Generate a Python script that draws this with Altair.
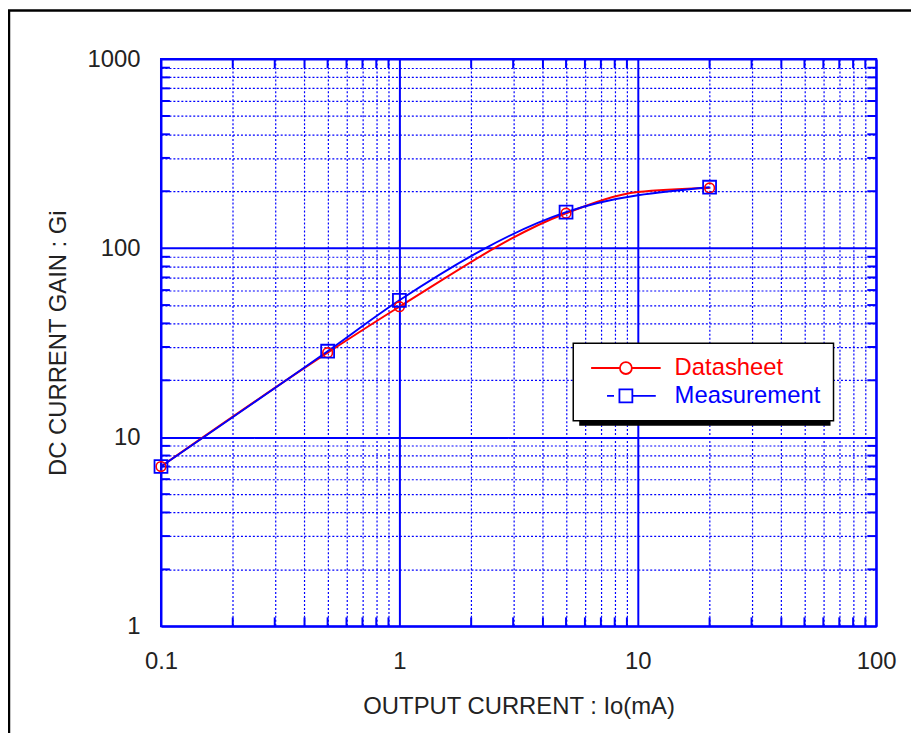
import altair as alt
import pandas as pd

FONT = "Liberation Sans"
TEXT = "#222222"
BLUE = "#0000ff"

series = ["Datasheet", "Measurement"]
colors = ["#ff0000", "#0000ff"]

# Datasheet curve (line) and its circle markers
ds_x = [0.1, 0.5, 1, 5, 10, 20]
ds_y = [7.0, 28.0, 49.0, 153.0, 198.0, 208.0]
ds_mark_x = [0.1, 0.5, 1, 5, 20]
ds_mark_y = [7.0, 28.0, 49.0, 153.0, 208.0]

# Measurement curve and its square markers
ms_x = [0.1, 0.5, 1, 5, 20]
ms_y = [7.0, 28.5, 53.0, 155.0, 210.0]

x_decades = [0.1, 1, 10, 100]
y_decades = [1, 10, 100, 1000]
minor_steps = [2, 3, 4, 5, 6, 7, 8, 9]

x_minor = sorted(round(d * m, 6) for d in x_decades[:-1] for m in minor_steps)
y_minor = sorted(d * m for d in y_decades[:-1] for m in minor_steps)
x_ticks = sorted(set(x_minor) | set(x_decades))
y_ticks = sorted(set(y_minor) | set(y_decades))

line_df = pd.concat([
    pd.DataFrame({"current": ds_x, "gain": ds_y, "series": series[0]}),
    pd.DataFrame({"current": ms_x, "gain": ms_y, "series": series[1]}),
])
ds_pts_df = pd.DataFrame({"current": ds_mark_x, "gain": ds_mark_y})
ms_pts_df = pd.DataFrame({"current": ms_x, "gain": ms_y})
x_minor_df = pd.DataFrame({"current": x_minor})
y_minor_df = pd.DataFrame({"gain": y_minor})

decade_test = "abs(log(datum.value)/LN10 - round(log(datum.value)/LN10)) < 0.001"

x_scale = alt.Scale(type="log", domain=[0.1, 100], nice=False)
y_scale = alt.Scale(type="log", domain=[1, 1000], nice=False)


def make_axis(values, title, label_pad, title_pad):
    return alt.Axis(
        values=values,
        title=title,
        labelExpr=f"({decade_test}) ? format(datum.value, '~g') : ''",
        labelOverlap=False,
        labelFlush=False,
        labelBound=False,
        ticks=False,
        domain=False,
        grid=True,
        gridColor=BLUE,
        gridOpacity=1,
        gridDash={"condition": {"test": decade_test, "value": [1, 0]}, "value": [2, 2]},
        gridWidth={"condition": {"test": decade_test, "value": 2}, "value": 1.2},
        labelFont=FONT,
        labelFontSize=24,
        labelColor=TEXT,
        labelPadding=label_pad,
        titleFont=FONT,
        titleFontSize=24,
        titleFontWeight="normal",
        titleColor=TEXT,
        titlePadding=title_pad,
    )


x_axis = make_axis(x_ticks, "OUTPUT CURRENT : Io(mA)", 23, 22)
y_axis = make_axis(y_ticks, "DC CURRENT GAIN : Gi", 21, 17)

X = alt.X("current:Q", scale=x_scale, axis=x_axis)
Y = alt.Y("gain:Q", scale=y_scale, axis=y_axis)

ds_sym = "M-1,0H3.14M4.86,0H9M4.86,0A0.86,0.86,0,1,1,3.14,0A0.86,0.86,0,1,1,4.86,0"
ms_sym = "M1.29,0H2.29M4.93,0H8.3M3.07,-0.93H4.93V0.93H3.07Z"

legend = alt.Legend(
    title=None,
    orient="none",
    legendX=415,
    legendY=286,
    labelFont=FONT,
    labelFontSize=24,
    labelColor={"expr": "datum.label == 'Datasheet' ? '#ff0000' : '#0000ff'"},
    labelOffset=65,
    symbolType={"expr": f"datum.label == 'Datasheet' ? '{ds_sym}' : '{ms_sym}'"},
    symbolSize=196,
    symbolStrokeWidth=1.8,
    symbolFillColor="#ffffff",
    padding=13,
    rowPadding=4,
    fillColor="#ffffff",
    strokeColor="#000000",
)

one = pd.DataFrame({"k": [0]})

border = alt.Chart(one).mark_rect(
    fillOpacity=0, stroke="#000000", strokeWidth=2.5
).encode(
    x=alt.value(-153), x2=alt.value(780), y=alt.value(-49), y2=alt.value(720)
)

shadow = alt.Chart(one).mark_rect(fill="#000000").encode(
    x=alt.value(421), x2=alt.value(674), y=alt.value(291), y2=alt.value(369)
)

# inward minor tick marks on the four edges of the frame
TICK = 9
x_ticks_bottom = alt.Chart(x_minor_df).mark_rule(color=BLUE, strokeWidth=2).encode(
    x=X, y=alt.value(571), y2=alt.value(571 - TICK)
)
x_ticks_top = alt.Chart(x_minor_df).mark_rule(color=BLUE, strokeWidth=2).encode(
    x=X, y=alt.value(0), y2=alt.value(TICK)
)
y_ticks_left = alt.Chart(y_minor_df).mark_rule(color=BLUE, strokeWidth=2).encode(
    y=Y, x=alt.value(0), x2=alt.value(TICK)
)
y_ticks_right = alt.Chart(y_minor_df).mark_rule(color=BLUE, strokeWidth=2).encode(
    y=Y, x=alt.value(720), x2=alt.value(720 - TICK)
)

lines = alt.Chart(line_df).mark_line(strokeWidth=2, interpolate="monotone").encode(
    x=X,
    y=Y,
    color=alt.Color("series:N", scale=alt.Scale(domain=series, range=colors), legend=legend),
)

ds_pts = alt.Chart(ds_pts_df).mark_point(
    shape="circle", size=95, filled=False, color=colors[0], strokeWidth=1.6, opacity=1
).encode(x=X, y=Y)

ms_pts = alt.Chart(ms_pts_df).mark_point(
    shape="square", size=169, filled=False, color=colors[1], strokeWidth=1.8, opacity=1
).encode(x=X, y=Y)

chart = alt.layer(
    lines, border, x_ticks_bottom, x_ticks_top, y_ticks_left, y_ticks_right,
    shadow, ds_pts, ms_pts
).properties(
    width=720,
    height=571,
    autosize=alt.AutoSizeParams(type="none"),
    padding={"left": 154, "top": 49, "right": 35, "bottom": 105},
    background="#ffffff",
).configure_view(
    stroke=BLUE, strokeWidth=2
).configure_legend(
    strokeWidth=1.5
)

chart.save("out.html", embed_options={"renderer": "svg", "actions": False})
